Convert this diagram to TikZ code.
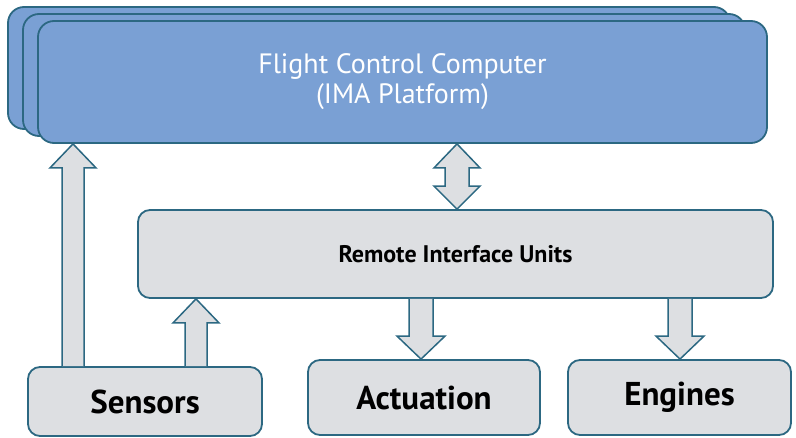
\documentclass[tikz,border=0pt]{standalone}
\usepackage{fontspec}
\setmainfont{PT Sans}
\usetikzlibrary{calc}

\definecolor{fccblue}{RGB}{122,160,212}
\definecolor{edgeteal}{RGB}{44,104,130}
\definecolor{boxgrey}{RGB}{221,223,226}

\newcommand{\blkup}[2]{%
  \draw[blk] let \p1=(#1), \p2=(#2) in
    (\x1-11pt,\y1) -- (\x1-11pt,\y2-24pt) -- (\x1-23pt,\y2-24pt) -- (\x1,\y2)
    -- (\x1+23pt,\y2-24pt) -- (\x1+11pt,\y2-24pt) -- (\x1+11pt,\y1);}
\newcommand{\blkdown}[2]{%
  \draw[blk] let \p1=(#1), \p2=(#2) in
    (\x1-12pt,\y1) -- (\x1-12pt,\y2+23pt) -- (\x1-24pt,\y2+23pt) -- (\x1,\y2)
    -- (\x1+24pt,\y2+23pt) -- (\x1+12pt,\y2+23pt) -- (\x1+12pt,\y1);}
\newcommand{\blkboth}[2]{%
  \draw[blk] let \p1=(#1), \p2=(#2) in
    (\x1,\y1) -- (\x1+23pt,\y1-24pt) -- (\x1+12pt,\y1-24pt) -- (\x1+12pt,\y2+23pt)
    -- (\x1+23pt,\y2+23pt) -- (\x1,\y2) -- (\x1-23pt,\y2+23pt) -- (\x1-12pt,\y2+23pt)
    -- (\x1-12pt,\y1-24pt) -- (\x1-23pt,\y1-24pt) -- cycle;}

\begin{document}
\begin{tikzpicture}[x=1pt,y=-1pt,
    fccbox/.style={draw=edgeteal, fill=fccblue, line width=1.8pt, rounded corners=16pt,
      minimum width=729pt, minimum height=122pt, text=white, align=center,
      font=\fontsize{28}{30}\selectfont},
    unitbox/.style={draw=edgeteal, fill=boxgrey, line width=1.8pt, rounded corners=12pt,
      font=\bfseries\fontsize{33}{38}\selectfont},
    blk/.style={draw=edgeteal, fill=boxgrey, line width=1.5pt}]
    \useasboundingbox (0,0) rectangle (796,438);

    \node[fccbox, minimum width=722pt] (fccback) at (369,68) {};
    \node[fccbox, minimum width=722pt] (fccmid) at (384,75) {};
    \node[fccbox] (fcc) at (402.5,82) {Flight Control Computer\\(IMA Platform)};

    \node[unitbox, minimum width=635pt, minimum height=88pt,
      font=\bfseries\fontsize{24}{28}\selectfont] (riu) at (455.5,254) {Remote Interface Units};
    \node[unitbox, minimum width=234pt, minimum height=69pt] (sensors) at (145,401.5) {Sensors};
    \node[unitbox, minimum width=232pt, minimum height=75pt] (actuation) at (424,397.5) {Actuation};
    \node[unitbox, minimum width=223pt, minimum height=75pt] (engines) at (679.5,397.5) {Engines};

    \coordinate (xsfcc) at (73,0);
    \coordinate (xsriu) at (196,0);
    \coordinate (xfcc) at (457,0);
    \coordinate (xact) at (421,0);
    \coordinate (xeng) at (680,0);

    \blkup{sensors.north -| xsfcc}{fcc.south -| xsfcc}
    \blkup{sensors.north -| xsriu}{riu.south -| xsriu}
    \blkboth{fcc.south -| xfcc}{riu.north -| xfcc}
    \blkdown{riu.south -| xact}{actuation.north -| xact}
    \blkdown{riu.south -| xeng}{engines.north -| xeng}
\end{tikzpicture}
\end{document}
